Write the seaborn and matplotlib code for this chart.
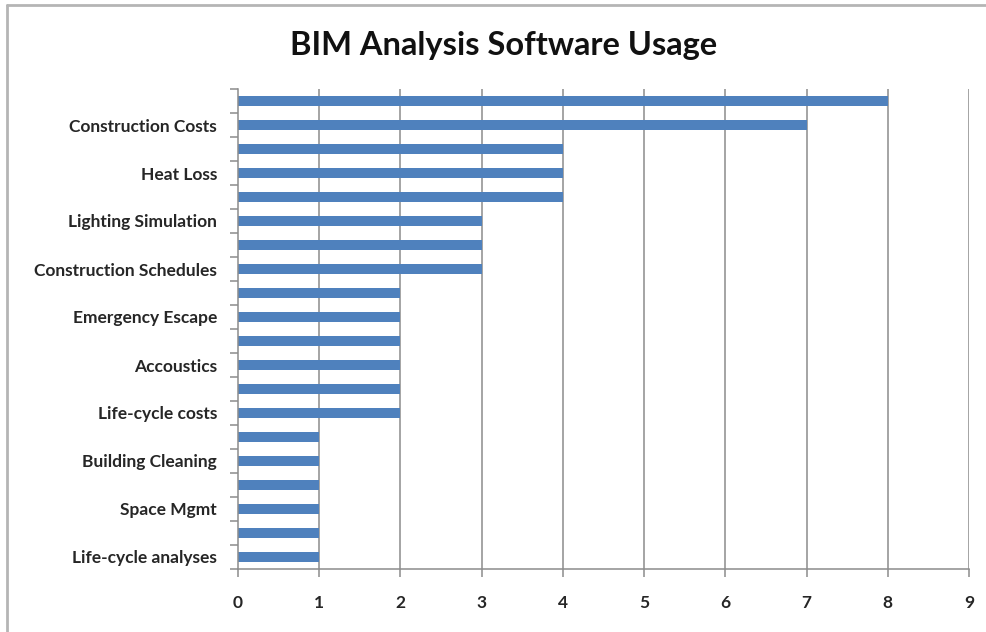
import matplotlib
matplotlib.use("Agg")
import matplotlib.pyplot as plt
from matplotlib.lines import Line2D
import seaborn as sns
import pandas as pd
import numpy as np

# Analysis types, top to bottom; every other category name is not shown on the axis
labels = ["", "Construction Costs", "", "Heat Loss", "", "Lighting Simulation",
          "", "Construction Schedules", "", "Emergency Escape", "", "Accoustics",
          "", "Life-cycle costs", "", "Building Cleaning", "", "Space Mgmt",
          "", "Life-cycle analyses"]
counts = [8, 7, 4, 4, 4, 3, 3, 3, 2, 2, 2, 2, 2, 2, 1, 1, 1, 1, 1, 1]
x_ticks = list(range(0, 10))

sns.set_theme(style="white")
plt.rcParams["font.family"] = ["Lato", "DejaVu Sans"]

df = pd.DataFrame({"slot": [f"c{i:02d}" for i in range(len(counts))],
                   "name": labels, "count": counts})

fig = plt.figure(figsize=(9.86, 6.32), dpi=100)
ax = fig.add_axes([238 / 986, 1 - 569 / 632, (969 - 238) / 986, (569 - 89) / 632])

grid_c = "#8c8c8c"
for v in x_ticks[1:]:
    ax.axvline(v, color=grid_c, lw=1.1, zorder=0)

sns.barplot(data=df, x="count", y="slot", orient="h", color="#4F81BD",
            saturation=1, width=0.42, linewidth=0, ax=ax, zorder=2)

n = len(counts)
ax.set_xlim(0, 9)
ax.set_ylim(n - 0.5, -0.5)
ax.set_xticks(x_ticks)
ax.set_xticklabels([str(t) for t in x_ticks], fontsize=12.5, fontweight="bold")
ax.tick_params(axis="x", length=6, width=1.1, color=grid_c, pad=13, direction="out",
               bottom=True)

ax.set_yticks(range(n))
ax.set_yticklabels(labels, fontsize=12.5, fontweight="bold")
ax.tick_params(axis="y", which="major", length=0, pad=15)
ax.set_yticks(np.arange(n + 1) - 0.5, minor=True)
ax.tick_params(axis="y", which="minor", length=6, width=1.1, color=grid_c,
               direction="out", left=True)

ax.set_xlabel("")
ax.set_ylabel("")
for side in ["top", "right"]:
    ax.spines[side].set_visible(False)
for side in ["left", "bottom"]:
    ax.spines[side].set_color(grid_c)
    ax.spines[side].set_linewidth(1.1)

fig.text(504 / 986, 1 - 45 / 632, "BIM Analysis Software Usage", ha="center",
         va="center", fontsize=23.5, fontweight="bold", color="#111111")

# chart frame
fig.add_artist(Line2D([7 / 986, 7 / 986], [0, 1 - 5 / 632], color="#b5b5b5", lw=2,
                      transform=fig.transFigure))
fig.add_artist(Line2D([7 / 986, 1], [1 - 5 / 632, 1 - 5 / 632], color="#b5b5b5", lw=2,
                      transform=fig.transFigure))

fig.savefig("out.png", dpi=100, facecolor="white")
